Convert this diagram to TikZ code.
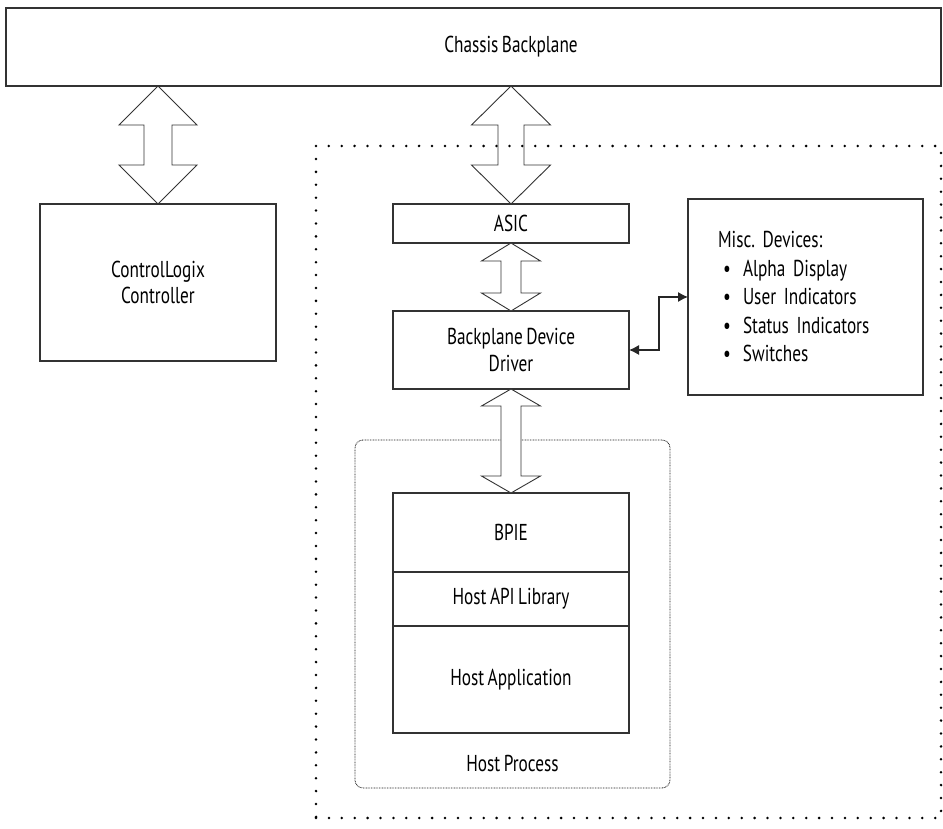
\documentclass[tikz,border=0pt]{standalone}
\usepackage{fontspec}
\setmainfont{PT Sans}[FakeStretch=0.75, WordSpace=0.75]
\usetikzlibrary{calc,positioning,arrows.meta}
\tikzset{
    >={Latex[length=10pt,width=10pt]},
    block/.style={
        rectangle,
        draw=black!80, line width=1.1pt,
        fill=white,
        align=center,
        inner sep=0pt, outer sep=0pt,
        minimum width=236pt
    },
    fatarrow/.style={draw=black!80, line width=0.9pt, fill=white, line join=miter},
    link/.style={draw=black!85, line width=1.1pt, <->},
    hostbox/.style={
        rectangle,
        rounded corners=8pt,
        draw=black!90, line width=0.8pt,
        dash pattern=on 0.8pt off 0.8pt
    },
    modulebox/.style={
        rectangle,
        draw=black, line width=2.8pt,
        line cap=round,
        dash pattern=on 0pt off 12.9pt
    },
    font={\fontsize{23pt}{26.5pt}\selectfont},
}
% vertical double arrow: top point, bottom point, shaft half, head half, head length
\newcommand{\dblarrow}[5]{%
  \draw [fatarrow] #1 -- ++(#4,-#5) -- ++(#3-#4,0)
    -- ($#2+(#3,#5)$) -- ++(#4-#3,0) -- #2 -- ++(-#4,#5)
    -- ++(#4-#3,0) -- ($#1+(-#3,-#5)$) -- ++(#3-#4,0) -- cycle;}
\newcommand{\miscitem}[1]{\makebox[25pt][l]{\hspace{5pt}\textbullet}#1}

\begin{document}
\frenchspacing
\begin{tikzpicture}[x=1pt, y=1pt]
\useasboundingbox (0,0) rectangle (943,828);

\node [block, minimum width=935pt, minimum height=78pt] (chassis) at (473.5,781) {};
\node [block, minimum height=157pt] (ctrl) at (158,545.5) {ControlLogix\\Controller};

\node [block, minimum height=39pt] (asic) at (511,604.5) {ASIC};
\node [block, minimum height=78pt, below=68pt of asic] (bdd) {Backplane Device\\Driver};
\node (chassislbl) at (chassis.center -| asic.north) {Chassis Backplane};

% host process
\node [hostbox, minimum width=315pt, minimum height=348pt] (hostproc) at (512.5,214) {};
\node [block, minimum height=79pt, below=104pt of bdd] (bpie) {BPIE};
\node [block, minimum height=54pt, below=0pt of bpie] (hostapi) {Host API Library};
\node [block, minimum height=107pt, below=0pt of hostapi] (hostapp) {Host Application};
\node (hostlbl) at ($(hostproc.south)+(0,25)$) {Host Process};

\node [block, minimum width=235pt, minimum height=196pt, text width=175pt, align=left,
       font={\fontsize{23pt}{28.5pt}\selectfont}] (misc) at (805.5,531)
  {Misc. Devices:\\ \miscitem{Alpha Display}\\ \miscitem{User Indicators}\\
   \miscitem{Status Indicators}\\ \miscitem{Switches}};

\dblarrow{(chassis.south -| ctrl.north)}{(ctrl.north)}{14}{39}{39}
\dblarrow{(chassis.south -| asic.north)}{(asic.north)}{13}{39.5}{39}
\dblarrow{(asic.south)}{(bdd.north)}{10}{29.5}{18}
\dblarrow{(bdd.south)}{(bpie.north)}{10}{29.5}{17}

\draw [link] (bdd.east) -- ++(30,0) |- (misc.west);

% module border
\node [modulebox, minimum width=625pt, minimum height=672pt] (module) at (628.5,346) {};

\end{tikzpicture}
\end{document}
